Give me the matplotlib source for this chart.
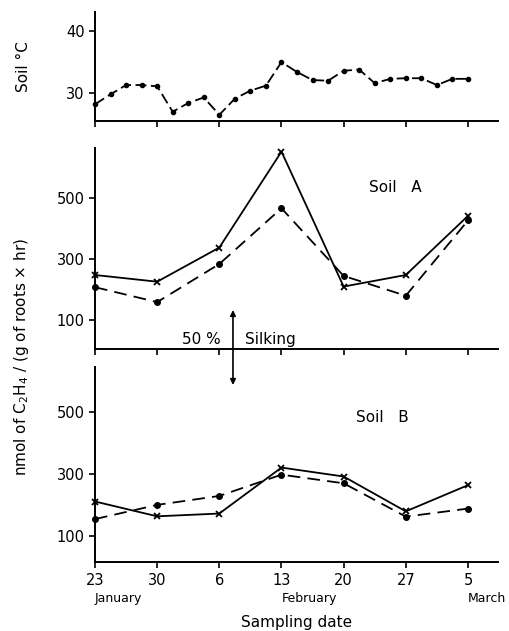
import numpy as np
import matplotlib
matplotlib.use("Agg")
import matplotlib.pyplot as plt
from matplotlib.transforms import blended_transform_factory

# soil temperature, every quarter week from 23 January
temp = [28.2, 29.8, 31.3, 31.3, 31.1, 27.0, 28.4, 29.3, 26.5, 29.1, 30.4, 31.2,
        35.0, 33.4, 32.1, 32.0, 33.6, 33.8, 31.6, 32.3, 32.4, 32.4, 31.3, 32.3, 32.3]
temp_x = np.arange(len(temp)) / 4.0

# sampling dates (weeks after 23 January)
weeks = [0, 1, 2, 3, 4, 5, 6]
day_labels = ["23", "30", "6", "13", "20", "27", "5"]

# nmol C2H4 / (g roots x hr)
soil_a_x = [248, 226, 338, 653, 210, 248, 442]
soil_a_dot = [208, 159, 284, 467, 245, 180, 427]
soil_b_x = [211, 163, 172, 321, 292, 179, 264]
soil_b_dot = [154, 200, 229, 298, 270, 162, 188]

silking = 2.22  # week of 50% silking

plt.rcParams['font.family'] = ['DejaVu Sans']
fig = plt.figure(figsize=(5.09, 6.31), dpi=100)

ax_t = fig.add_axes([0.1866, 0.8082, 0.7914, 0.173])
ax_a = fig.add_axes([0.1866, 0.4464, 0.7914, 0.3191])
ax_b = fig.add_axes([0.1866, 0.1089, 0.7914, 0.3095])

for ax in (ax_t, ax_a, ax_b):
    ax.set_facecolor('none')
    ax.spines['top'].set_visible(False)
    ax.spines['right'].set_visible(False)
    ax.spines['left'].set_linewidth(1.4)
    ax.spines['bottom'].set_linewidth(1.4)
    ax.set_xlim(0, 6.48)
    ax.set_xticks(weeks)
    ax.tick_params(direction='out', length=4, width=1.2, labelsize=10.5)
    ax.set_xticklabels([])

# temperature
ax_t.plot(temp_x, temp, color='black', lw=1.3, dashes=(6, 2.5),
          marker='o', ms=3, clip_on=False)
ax_t.set_ylim(25.5, 43.1)
ax_t.set_yticks([30, 40])
ax_t.set_ylabel("Soil °C", fontsize=11, labelpad=25)

# soil A
ax_a.plot(weeks, soil_a_x, color='black', lw=1.3, marker='x', ms=5, mew=1.3, clip_on=False)
ax_a.plot(weeks, soil_a_dot, color='black', lw=1.3, dashes=(7, 4),
          marker='o', ms=4, clip_on=False)
ax_a.set_ylim(4, 665)
ax_a.set_yticks([100, 300, 500])
ax_a.text(4.4, 520, "Soil   A", fontsize=11)

# soil B
ax_b.plot(weeks, soil_b_x, color='black', lw=1.3, marker='x', ms=5, mew=1.3, clip_on=False)
ax_b.plot(weeks, soil_b_dot, color='black', lw=1.3, dashes=(7, 4),
          marker='o', ms=4, clip_on=False)
ax_b.set_ylim(14, 647)
ax_b.set_yticks([100, 300, 500])
ax_b.text(4.2, 470, "Soil   B", fontsize=11)
ax_b.set_xticklabels(day_labels)

months = [("January", 0), ("February", 3), ("March", 6)]
for name, w in months:
    ax_b.text(w, -0.185, name, transform=blended_transform_factory(ax_b.transData, ax_b.transAxes),
              ha='left', va='center', fontsize=9)
ax_b.set_xlabel("Sampling date", fontsize=11, labelpad=20)

# silking arrow
tr = blended_transform_factory(ax_a.transData, fig.transFigure)
for y_end in (1 - 310 / 631, 1 - 385 / 631):
    ann = ax_a.annotate("", xy=(silking, y_end), xytext=(silking, 1 - 349 / 631),
                        xycoords=tr, textcoords=tr, annotation_clip=False,
                        arrowprops=dict(arrowstyle='-|>', color='black', lw=1.2,
                                        mutation_scale=8, shrinkA=0, shrinkB=0))
    ann.set_zorder(10)
ax_a.text(silking - 0.2, 1 - 339 / 631, "50 %", transform=tr, ha='right', va='center', fontsize=11)
ax_a.text(silking + 0.2, 1 - 339 / 631, "Silking", transform=tr, ha='left', va='center', fontsize=11)

fig.text(0.043, 1 - 357 / 631, r"nmol of C$_2$H$_4$ / (g of roots × hr)",
         rotation=90, ha='center', va='center', fontsize=11)

fig.savefig("out.png", dpi=100)
